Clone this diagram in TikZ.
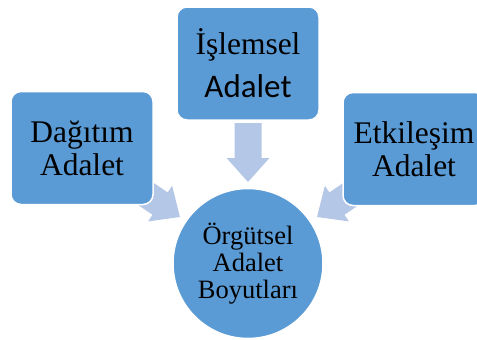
\documentclass[tikz,border=0pt]{standalone}
\usepackage{fontspec}
\setmainfont{Liberation Serif}
\newfontfamily\carlito{Carlito}
\definecolor{boxblue}{HTML}{5B9BD5}
\definecolor{arrowblue}{HTML}{B4C7E7}
\tikzset{
  boxnode/.style={rectangle, rounded corners=10pt, fill=boxblue, draw=white, line width=1.5pt,
    minimum width=142pt, minimum height=113pt, inner sep=0pt, align=center,
    font=\fontsize{31.5}{33}\selectfont},
  hubnode/.style={circle, fill=boxblue, draw=white, line width=1.5pt, minimum size=150pt,
    inner sep=0pt, align=center, font=\fontsize{26.5}{26.7}\selectfont},
  pics/blockarrow/.style={code={
    \fill[arrowblue] (0,0) -- (-24,-21.5) -- (-24,-13.5) -- (-59,-13.5) -- (-59,13.5)
      -- (-24,13.5) -- (-24,21.5) -- cycle;}}
}
\begin{document}
\begin{tikzpicture}[x=1pt,y=-1pt]
\useasboundingbox (0,0) rectangle (477,340);
% arrows (drawn below the boxes)
\pic[rotate=-90] at (248,182) {blockarrow};
\pic[rotate=-34] at (180,217) {blockarrow};
\pic[rotate=-146] at (317,217) {blockarrow};
% boxes
\node[boxnode] (dag) at (82,148) {Dağıtım\\Adalet};
\node[boxnode] (isl) at (248,63.5) {\fontsize{31.5}{31}\selectfont İşlemsel\\[10pt]{\carlito\fontsize{33}{33}\selectfont Adalet}};
\node[boxnode] (etk) at (414,149) {Etkileşim\\Adalet};
% hub
\node[hubnode] (hub) at (248,263.5) {Örgütsel\\Adalet\\Boyutları};
\end{tikzpicture}
\end{document}
